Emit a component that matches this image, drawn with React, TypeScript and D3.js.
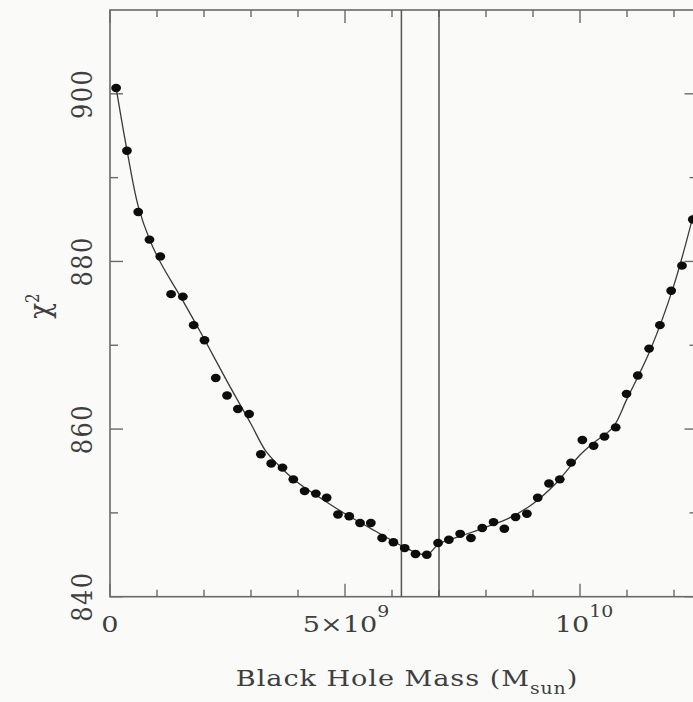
import React from "react";
import * as d3 from "d3";

// Data (mass in units of 1e9 Msun, chi^2)
const massPts: number[] = [
  0.13, 0.36, 0.6, 0.84, 1.07, 1.3, 1.55, 1.78, 2.01, 2.25, 2.49, 2.72, 2.96,
  3.21, 3.43, 3.67, 3.9, 4.14, 4.38, 4.61, 4.85, 5.09, 5.32, 5.55, 5.79, 6.03,
  6.27, 6.5, 6.74, 6.98, 7.21, 7.45, 7.68, 7.92, 8.16, 8.39, 8.63, 8.87, 9.1,
  9.34, 9.57, 9.81, 10.05, 10.29, 10.52, 10.76, 10.99, 11.23, 11.47, 11.7,
  11.94, 12.17, 12.4,
];
const chiPts: number[] = [
  900.7, 893.2, 885.9, 882.6, 880.6, 876.1, 875.8, 872.4, 870.6, 866.1, 864.0,
  862.4, 861.8, 857.0, 855.9, 855.4, 854.0, 852.6, 852.3, 851.8, 849.8, 849.6,
  848.8, 848.8, 847.0, 846.5, 845.8, 845.1, 845.0, 846.4, 846.8, 847.5, 847.0,
  848.2, 848.9, 848.1, 849.5, 849.9, 851.8, 853.5, 854.0, 856.0, 858.7, 858.0,
  859.1, 860.2, 864.2, 866.4, 869.6, 872.4, 876.5, 879.5, 885.0,
];

// Smooth fit curve knots
const fitMass: number[] = [
  0.13, 0.36, 0.6, 0.85, 1.1, 1.5, 2.0, 2.5, 3.0, 3.3, 3.6, 4.0, 4.5, 5.0,
  5.5, 6.0, 6.3, 6.55, 6.75, 7.0, 7.5, 8.0, 8.5, 9.0, 9.5, 10.0, 10.3, 10.7,
  11.0, 11.5, 12.0, 12.5,
];
const fitChi: number[] = [
  900.7, 893.3, 886.6, 882.5, 879.6, 875.8, 870.8, 865.6, 860.6, 857.5, 855.6,
  853.6, 851.7, 849.9, 848.3, 846.7, 845.8, 845.2, 845.0, 846.3, 847.3, 848.3,
  849.4, 851.1, 853.6, 856.9, 858.4, 860.2, 863.6, 869.5, 877.2, 887.5,
];

const vLines: number[] = [6.2, 7.0];
const yMajorTicks: number[] = [840, 860, 880, 900];
const yMinorTicks: number[] = [850, 870, 890];
const xMinorTicks: number[] = [1, 2, 3, 4, 6, 7, 8, 9, 11, 12];
const xMajorTicks: number[] = [0, 5, 10];

const W = 693;
const H = 702;
const L = 110, R = 697.5, T = 10, B = 596.7;
const SX = 1.18; // horizontal stretch of the picture
const BG = "#fafaf8";
const AX = "#6a6a6a";
const TXT = "#3f3f3f";
const FONT = "'DejaVu Serif', serif";

export default function App() {
  const x = d3.scaleLinear().domain([0, 12.5]).range([L, R]);
  const y = d3.scaleLinear().domain([840, 910]).range([B, T]);
  const line = d3
    .line<[number, number]>()
    .x((d) => x(d[0]))
    .y((d) => y(d[1]))
    .curve(d3.curveCatmullRom.alpha(0.5));
  const fit: [number, number][] = fitMass.map((m, i) => [m, fitChi[i]]);

  const xLabel = (v: number) => {
    if (v === 0) return <tspan>0</tspan>;
    if (v === 5)
      return (
        <>
          <tspan>5×10</tspan>
          <tspan fontSize={16} dy={-15}>9</tspan>
        </>
      );
    return (
      <>
        <tspan>10</tspan>
        <tspan fontSize={16} dy={-15}>10</tspan>
      </>
    );
  };
  const xLabelPos: Record<number, number> = { 0: 110, 5: 346, 10: 584 };

  return (
    <svg
      width={W}
      height={H}
      style={{ position: "absolute", left: 0, top: 0, display: "block" }}
    >
      <rect x={0} y={0} width={W} height={H} fill={BG} />
      {/* frame */}
      <rect x={L} y={T} width={R - L} height={B - T} fill="none" stroke={AX} strokeWidth={1.6} />
      {/* x ticks bottom & top */}
      {xMinorTicks.map((t) => (
        <g key={"xm" + t}>
          <line x1={x(t)} x2={x(t)} y1={B} y2={B - 7} stroke={AX} strokeWidth={1.4} />
          <line x1={x(t)} x2={x(t)} y1={T} y2={T + 7} stroke={AX} strokeWidth={1.4} />
        </g>
      ))}
      {xMajorTicks.map((t) => (
        <g key={"xM" + t}>
          <line x1={x(t)} x2={x(t)} y1={B} y2={B - 13} stroke={AX} strokeWidth={1.4} />
          <line x1={x(t)} x2={x(t)} y1={T} y2={T + 13} stroke={AX} strokeWidth={1.4} />
        </g>
      ))}
      {/* y ticks left & right */}
      {yMinorTicks.map((t) => (
        <g key={"ym" + t}>
          <line x1={L} x2={L + 8} y1={y(t)} y2={y(t)} stroke={AX} strokeWidth={1.4} />
          <line x1={R} x2={R - 8} y1={y(t)} y2={y(t)} stroke={AX} strokeWidth={1.4} />
        </g>
      ))}
      {yMajorTicks.map((t) => (
        <g key={"yM" + t}>
          <line x1={L} x2={L + 13} y1={y(t)} y2={y(t)} stroke={AX} strokeWidth={1.4} />
          <line x1={R} x2={R - 13} y1={y(t)} y2={y(t)} stroke={AX} strokeWidth={1.4} />
        </g>
      ))}
      {/* vertical lines */}
      {vLines.map((v) => (
        <line key={"v" + v} x1={x(v)} x2={x(v)} y1={T} y2={B} stroke="#555" strokeWidth={1.5} />
      ))}
      {/* fit curve */}
      <path d={line(fit) || ""} fill="none" stroke="#3a3a3a" strokeWidth={1.3} />
      {/* points */}
      {massPts.map((m, i) => (
        <ellipse key={"p" + i} cx={x(m)} cy={y(chiPts[i])} rx={4.9} ry={4.2} fill="#0d0d0d" />
      ))}
      {/* y tick labels */}
      {yMajorTicks.map((t) => (
        <text
          key={"yl" + t}
          transform={`translate(92,${y(t)}) scale(${SX},1) rotate(-90)`}
          textAnchor="middle"
          fontFamily={FONT}
          fontSize={24}
          letterSpacing={1.5}
          fill={TXT}
        >
          {t}
        </text>
      ))}
      {/* x tick labels */}
      {xMajorTicks.map((t) => (
        <text
          key={"xl" + t}
          transform={`translate(${xLabelPos[t]},632) scale(${SX},1)`}
          textAnchor="middle"
          fontFamily={FONT}
          fontSize={23}
          fill={TXT}
        >
          {xLabel(t)}
        </text>
      ))}
      {/* x title */}
      <text
        transform={`translate(407,686) scale(${SX},1)`}
        textAnchor="middle"
        fontFamily={FONT}
        fontSize={23}
        letterSpacing={0.8}
        fill={TXT}
      >
        <tspan>Black Hole Mass (M</tspan>
        <tspan fontSize={16} dy={8}>sun</tspan>
        <tspan dy={-8}>)</tspan>
      </text>
      {/* y title */}
      <text
        transform={`translate(50,306) scale(${SX},1) rotate(-90)`}
        textAnchor="middle"
        fontFamily={FONT}
        fontSize={26}
        fill={TXT}
      >
        <tspan>χ</tspan>
        <tspan fontSize={15} dy={-9}>2</tspan>
      </text>
    </svg>
  );
}
